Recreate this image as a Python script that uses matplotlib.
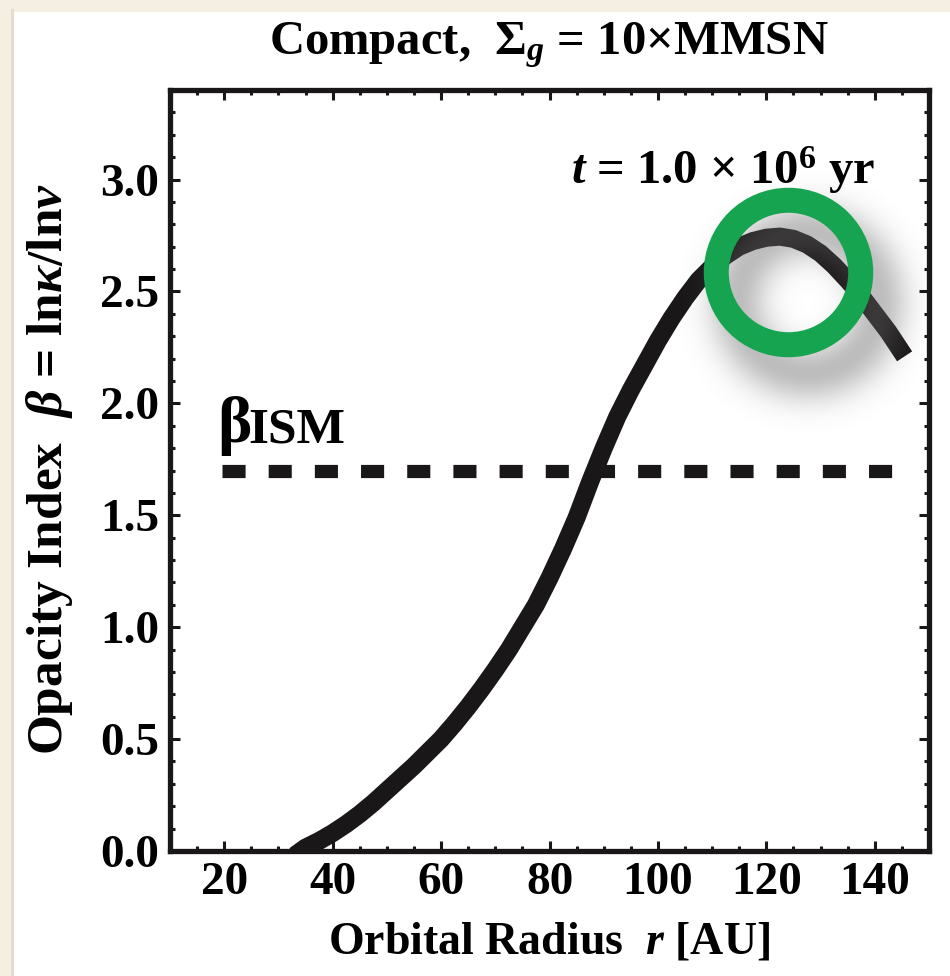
import numpy as np
import matplotlib
matplotlib.use("Agg")
import matplotlib.pyplot as plt
from matplotlib.patches import Rectangle
from matplotlib.ticker import MultipleLocator

# opacity index vs orbital radius
r_au = [33, 35, 37.5, 40, 42.5, 45, 47.5, 50, 52.5, 55, 57.5, 60, 62.5, 65,
        67.5, 70, 72.5, 75, 77.5, 80, 82.5, 85, 87.5, 90, 92.5, 95, 97.5, 100,
        102.5, 105, 107.5, 110, 112.5, 115, 117.5, 120, 122.5, 125, 127.5, 130,
        132.5, 135, 137.5, 140, 142.5, 145.5]
beta = [-0.02, 0.015, 0.045, 0.08, 0.12, 0.165, 0.215, 0.27, 0.325, 0.38,
        0.44, 0.50, 0.57, 0.645, 0.725, 0.81, 0.90, 1.00, 1.10, 1.22, 1.35,
        1.49, 1.65, 1.80, 1.94, 2.06, 2.17, 2.28, 2.38, 2.47, 2.55, 2.61, 2.66,
        2.70, 2.725, 2.74, 2.745, 2.735, 2.71, 2.67, 2.615, 2.55, 2.48, 2.40,
        2.32, 2.21]
beta_ism = 1.7
ism_range = [19.5, 145.5]
highlight = (124.0, 2.585)   # circled peak

x_ticks = [20, 40, 60, 80, 100, 120, 140]
y_ticks = [0.0, 0.5, 1.0, 1.5, 2.0, 2.5, 3.0]

plt.rcParams['font.family'] = ['Liberation Serif', 'DejaVu Serif']
plt.rcParams['font.weight'] = 'bold'
plt.rcParams['mathtext.fontset'] = 'custom'
plt.rcParams['mathtext.rm'] = 'Liberation Serif:bold'
plt.rcParams['mathtext.it'] = 'Liberation Serif:italic:bold'
plt.rcParams['mathtext.bf'] = 'Liberation Serif:bold'

W, H = 950, 976
fig = plt.figure(figsize=(W / 100, H / 100), dpi=100)
fig.patch.set_facecolor('white')
# cream page border with white panel
fig.patches.append(Rectangle((0, 0), 1, 1, transform=fig.transFigure,
                             facecolor='#f4efe2', edgecolor='none', zorder=-3))
fig.patches.append(Rectangle((11 / W, 0), 3 / W, 1 - 9 / H, transform=fig.transFigure,
                             facecolor='#e4ddcc', edgecolor='none', zorder=-2))
fig.patches.append(Rectangle((14 / W, 0), 1, 1 - 12 / H, transform=fig.transFigure,
                             facecolor='white', edgecolor='none', zorder=-1))

ax = fig.add_axes([170 / W, 1 - 851 / H, 759 / W, 761 / H])
ax.set_xlim(10, 150)
ax.set_ylim(0, 3.4)

ax.plot(r_au, beta, color='#1a1718', lw=13, solid_capstyle='butt',
        solid_joinstyle='round', zorder=3)
ax.plot(ism_range, [beta_ism, beta_ism], color='#1a1718', lw=9.5,
        dashes=(1.75, 1.75), dash_capstyle='butt', zorder=3)

# blurred drop shadow under the highlight ring
def ring_shadow(r_in, r_out, sigma, half):
    yy, xx = np.mgrid[-half:half + 1, -half:half + 1]
    rr = np.hypot(xx, yy)
    ring = ((rr >= r_in) & (rr <= r_out)).astype(float)
    k = np.arange(-3 * sigma, 3 * sigma + 1)
    g = np.exp(-k ** 2 / (2.0 * sigma ** 2))
    g /= g.sum()
    ring = np.apply_along_axis(lambda m: np.convolve(m, g, 'same'), 0, ring)
    ring = np.apply_along_axis(lambda m: np.convolve(m, g, 'same'), 1, ring)
    return ring

half = 180
shade = ring_shadow(56, 90, 18, half)
rgba = np.zeros(shade.shape + (4,))
rgba[..., :3] = 0.40
rgba[..., 3] = 0.65 * shade
cx, cy = ax.transData.transform(highlight)
cx, cy = cx + 20, cy - 30
inv = ax.transData.inverted()
(x0, y0), (x1, y1) = inv.transform([(cx - half, cy - half), (cx + half, cy + half)])
ax.imshow(rgba, extent=(x0, x1, y0, y1), aspect='auto', zorder=4,
          interpolation='bilinear')
ax.set_xlim(10, 150)
ax.set_ylim(0, 3.4)

ax.plot([highlight[0]], [highlight[1]], marker='o', ms=104, mfc='none',
        mec='#17a450', mew=18, zorder=5)

ax.text(140.2, 2.98, r'$t$ = 1.0 × 10$^{6}$ yr', ha='right', va='baseline',
        fontsize=35, zorder=6)
ax.text(18.8, 1.826, 'β', ha='left', va='baseline', fontsize=47, zorder=6)
ax.text(24.4, 1.826, 'ISM', ha='left', va='baseline', fontsize=37, zorder=6)

ax.set_xticks(x_ticks)
ax.set_yticks(y_ticks)
ax.set_yticklabels([f'{v:.1f}' for v in y_ticks])
ax.xaxis.set_minor_locator(MultipleLocator(5))
ax.yaxis.set_minor_locator(MultipleLocator(0.1))
ax.tick_params(which='both', direction='in', top=True, right=True,
               labelsize=34, pad=8, width=2.2, color='#1a1718')
ax.tick_params(which='major', length=7)
ax.tick_params(which='minor', length=3.5)
for s in ax.spines.values():
    s.set_linewidth(3.8)
    s.set_color('#1a1718')

fig.text(549 / W, 1 - 54 / H, r'Compact,  $\Sigma_g$ = 10×MMSN', ha='center',
         va='baseline', fontsize=35)
fig.text(549 / W, 1 - 943 / H, r'Orbital Radius  $r$ [AU]', ha='center',
         va='center', fontsize=33)
fig.text(50 / W, 1 - 469 / H, r'Opacity Index  $\beta$ = ln$\kappa$/ln$\nu$',
         ha='center', va='center', rotation=90, fontsize=37)

fig.savefig('out.png', dpi=100)
